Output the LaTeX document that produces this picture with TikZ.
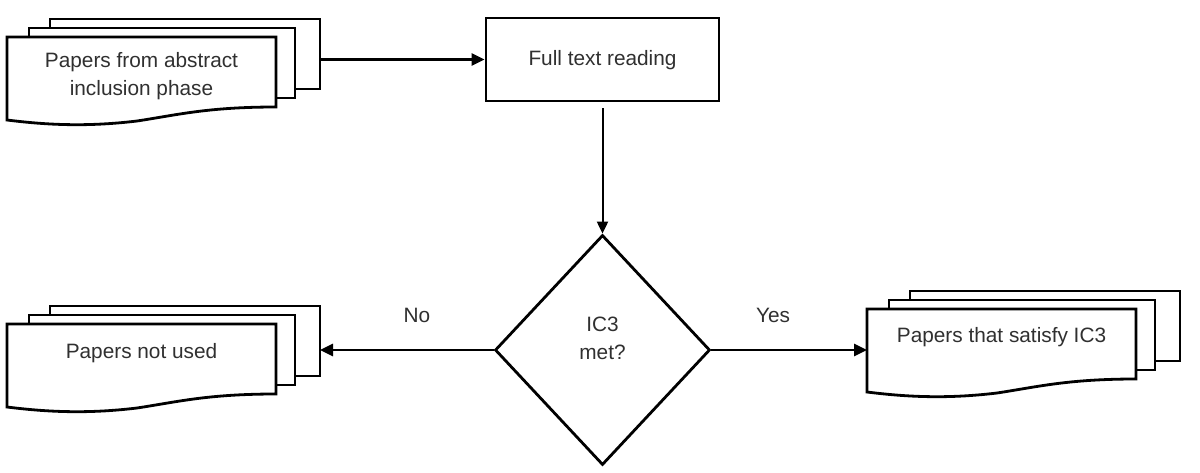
\documentclass[tikz,border=0pt]{standalone}
\usepackage{fontspec}
\setmainfont{Liberation Sans}
\usetikzlibrary{shapes.geometric,arrows.meta,calc}
\definecolor{txt}{HTML}{303030}
\tikzset{
 sheet/.style={draw=black, line width=2.8pt, fill=white, inner sep=0pt, outer sep=0pt},
 lbl/.style={text=txt, font=\fontsize{20.8}{28}\selectfont, align=center, inner sep=0pt},
 arr/.style={draw=black, line width=2.8pt, -{Triangle[length=13pt,width=12pt]}},
 thinarr/.style={draw=black, line width=2pt, -{Triangle[length=12pt,width=11pt]}},
}
% #1 name, #2 shift of the front sheet top-left
\newcommand\multidoc[2]{%
 \begin{scope}[shift={#2}]
  \node[sheet, anchor=north west, minimum width=270pt, minimum height=70pt] (#1b) at (43,-18) {};
  \node[sheet, anchor=north west, minimum width=266pt, minimum height=70pt] (#1m) at (22,-9) {};
  \draw[line width=2.8pt, fill=white] (0,0) -- (269,0) -- (269,70)
    .. controls (200,70) and (170,78) .. (130,84)
    .. controls (80,90) and (40,88) .. (0,83) -- cycle;
  \node[anchor=north west, minimum width=269pt, minimum height=70pt, inner sep=0pt, outer sep=1.4pt] (#1f) at (0,0) {};
 \end{scope}}
\begin{document}
\begin{tikzpicture}[x=1pt,y=-1pt]
\useasboundingbox (0,0) rectangle (1200,472);
\fill[white] (0,0) rectangle (1200,472);

\multidoc{da}{(7,37)}
\node[lbl] (ta) at (141.5,76) {Papers from abstract\\inclusion phase};

\multidoc{dn}{(7,324)}
\node[lbl] (tn) at (141.5,353) {Papers not used};

\multidoc{dy}{(867,309)}
\node[lbl] (ty) at (1001.5,337) {Papers that satisfy IC3};

\node[draw=black, line width=2.8pt, minimum width=233pt, minimum height=83pt, inner sep=0pt] (ft) at (602.5,59.5) {};
\node[lbl] (ftt) at (602.5,60) {Full text reading};

\node[diamond, draw=black, line width=2.8pt, minimum width=215pt, minimum height=230pt, inner sep=0pt] (dia) at (602.5,350) {};
\node[lbl] (diat) at (602.5,338) {IC3\\met?};

\node[lbl] (no) at (417,315) {No};
\node[lbl] (yes) at (773,315) {Yes};

\draw[arr] (ft.west -| dab.east) -- (ft.west);
\draw[thinarr, shorten <=6pt] (ft.south) -- (dia.north);
\draw[arr] (dia.west) -- (dia.west -| dnb.east);
\draw[arr] (dia.east) -- (dia.east -| dyf.west);
\end{tikzpicture}
\end{document}
